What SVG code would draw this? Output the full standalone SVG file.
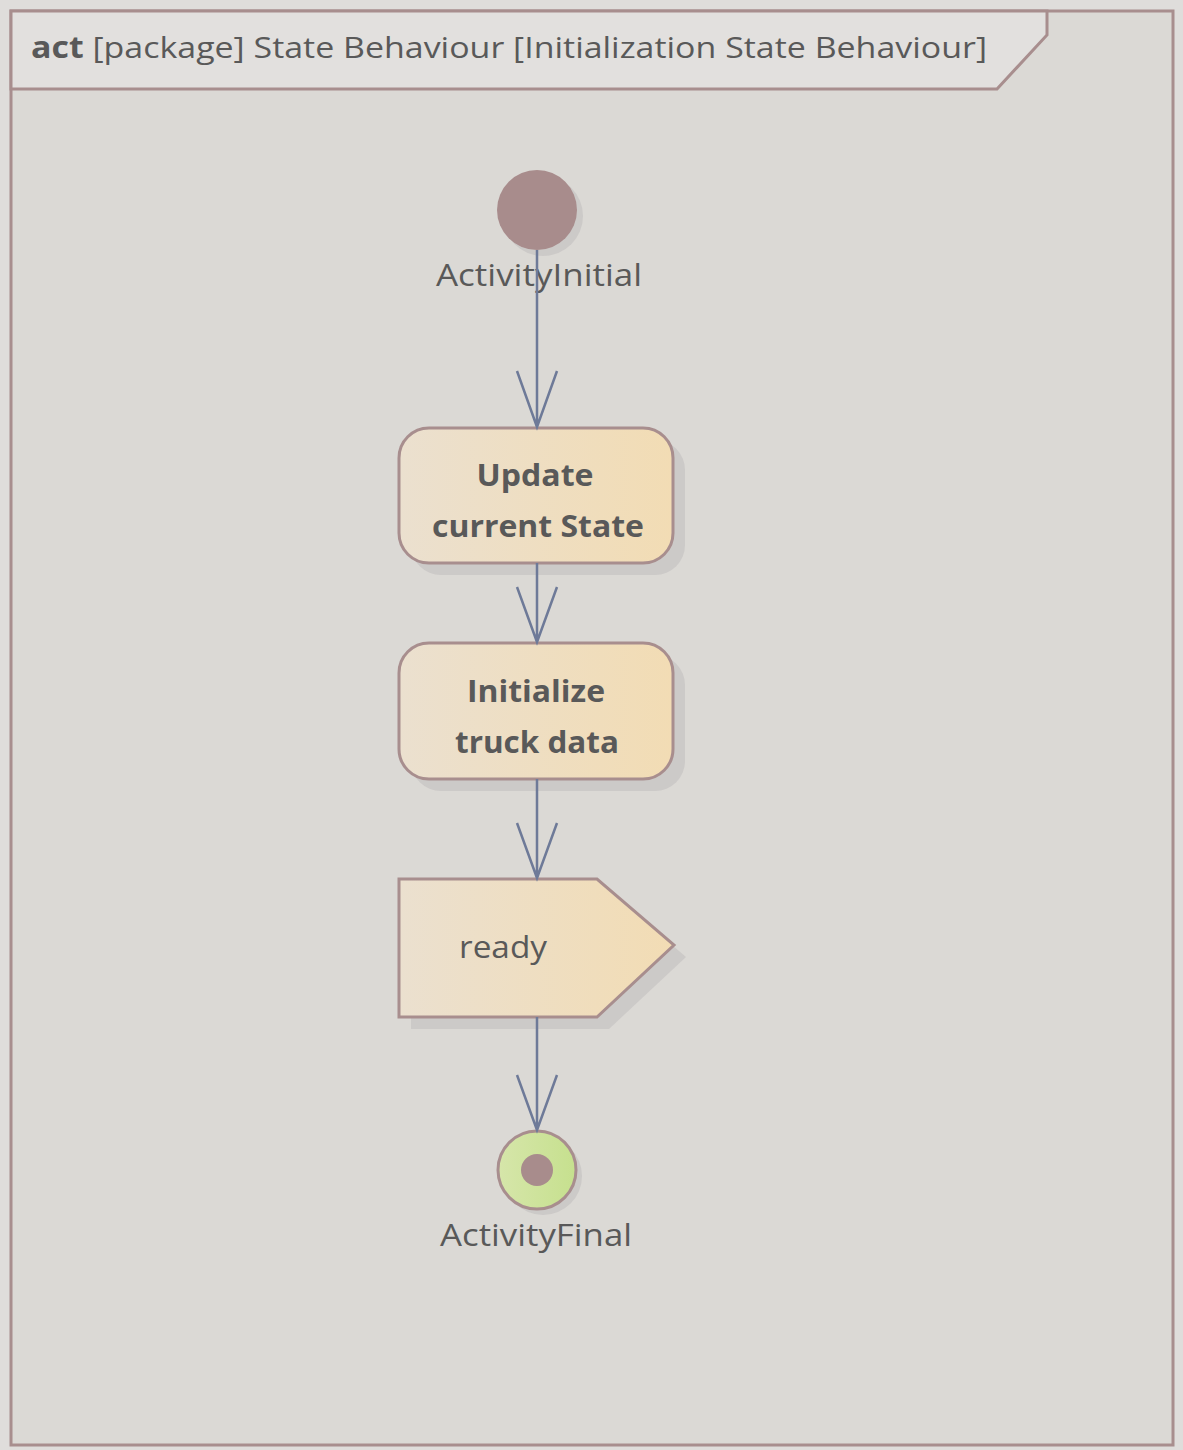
<svg xmlns="http://www.w3.org/2000/svg" width="1183" height="1450" viewBox="0 0 1183 1450">
<defs>
<linearGradient id="act" x1="0" y1="0" x2="1" y2="0">
<stop offset="0" stop-color="#ebe0cf"/>
<stop offset="1" stop-color="#f2dcb4"/>
</linearGradient>
<linearGradient id="fin" x1="0" y1="0" x2="1" y2="0">
<stop offset="0" stop-color="#d6e6aa"/>
<stop offset="1" stop-color="#c6e08e"/>
</linearGradient>
<style>
.t{font-family:"Open Sans","Liberation Sans",sans-serif;fill:#595959}
.b{font-weight:bold}
.node{stroke:#a88e8e;stroke-width:3}
.sh{fill:#c8c6c4;opacity:0.8}
.con{stroke:#6e7a98;stroke-width:2.5;fill:none}
</style>
</defs>
<rect x="0" y="0" width="1183" height="1450" fill="#dfdddb"/>
<g id="frame">
<rect x="11" y="11" width="1162" height="1434" fill="#dbd9d5" stroke="#a88e8e" stroke-width="3"/>
<path d="M11 11 H1047 V35 L997 89 H11 Z" fill="#e2e0de" stroke="#a88e8e" stroke-width="3"/>
<text class="t" x="31" y="58" font-size="30" textLength="956" lengthAdjust="spacingAndGlyphs"><tspan class="b">act</tspan> [package] State Behaviour [Initialization State Behaviour]</text>
</g>
<g id="initial">
<circle cx="543" cy="216" r="40" class="sh"/>
<circle cx="537" cy="210" r="40" fill="#a88c8c"/>
<text class="t" x="539" y="286" font-size="31" text-anchor="middle" textLength="206" lengthAdjust="spacingAndGlyphs">ActivityInitial</text>
</g>
<g id="update">
<rect x="411" y="440" width="274" height="135" rx="30" class="sh"/>
<rect x="399" y="428" width="274" height="135" rx="30" fill="url(#act)" class="node"/>
<text class="t b" x="535" y="486" font-size="31" text-anchor="middle" textLength="117" lengthAdjust="spacingAndGlyphs">Update</text>
<text class="t b" x="538" y="537" font-size="31" text-anchor="middle" textLength="212" lengthAdjust="spacingAndGlyphs">current State</text>
</g>
<g id="initialize">
<rect x="411" y="655" width="274" height="136" rx="30" class="sh"/>
<rect x="399" y="643" width="274" height="136" rx="30" fill="url(#act)" class="node"/>
<text class="t b" x="536" y="702" font-size="31" text-anchor="middle" textLength="138" lengthAdjust="spacingAndGlyphs">Initialize</text>
<text class="t b" x="537" y="753" font-size="31" text-anchor="middle" textLength="164" lengthAdjust="spacingAndGlyphs">truck data</text>
</g>
<g id="ready">
<path d="M411 891 H609 L686 957 L609 1029 H411 Z" class="sh"/>
<path d="M399 879 H597 L674 945 L597 1017 H399 Z" fill="url(#act)" class="node"/>
<text class="t" x="459" y="958" font-size="31" textLength="88" lengthAdjust="spacingAndGlyphs">ready</text>
</g>
<g id="final">
<circle cx="543" cy="1176" r="39" class="sh"/>
<circle cx="537" cy="1170" r="39" fill="url(#fin)" class="node"/>
<circle cx="537" cy="1170" r="16" fill="#a88c8c"/>
<text class="t" x="536" y="1246" font-size="31" text-anchor="middle" textLength="192" lengthAdjust="spacingAndGlyphs">ActivityFinal</text>
</g>
<g id="connectors">
<path class="con" d="M537 250 V427 M517 371 L537 427 L557 371"/>
<path class="con" d="M537 563 V642 M517 587 L537 642 L557 587"/>
<path class="con" d="M537 779 V878 M517 823 L537 878 L557 823"/>
<path class="con" d="M537 1017 V1130 M517 1075 L537 1130 L557 1075"/>
</g>
</svg>
